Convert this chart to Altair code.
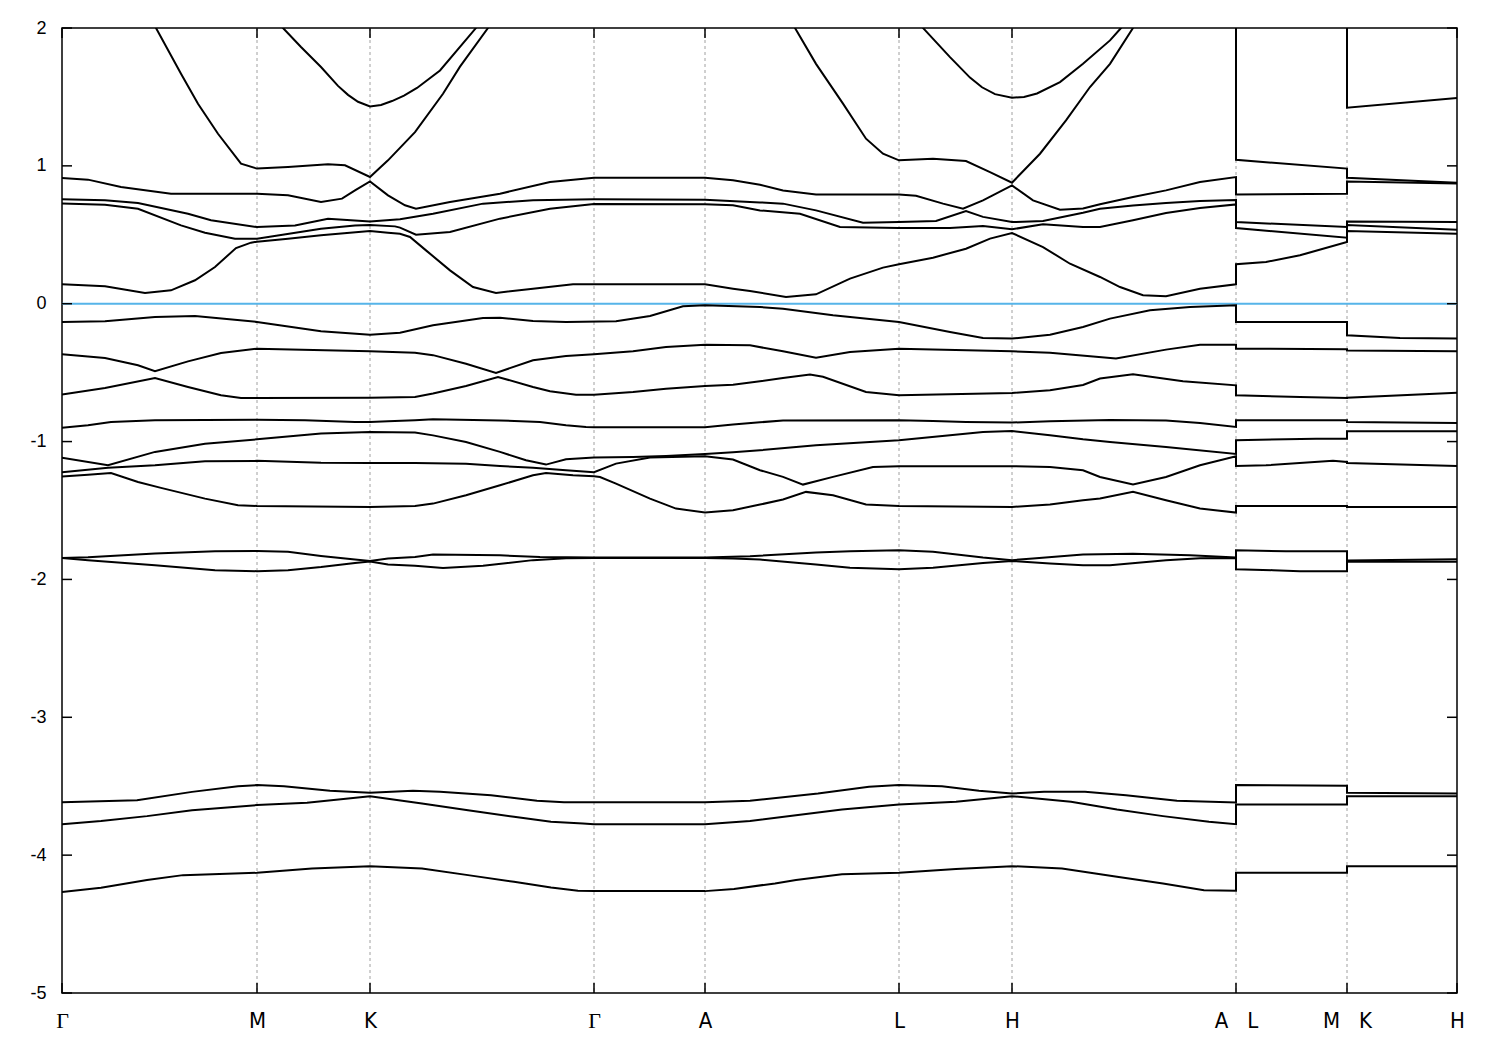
import altair as alt
import pandas as pd

# high-symmetry points along the k-path (path coordinate)
node_k = [0, 195, 308, 532, 643, 837, 950, 1174, 1285, 1395]
NB = "\u00a0"
node_labels = ["Γ", "M", "K", "Γ", "A", "L", "H", "A" + NB * 3 + "L", "M" + NB * 3 + "K", "H"]
grid_k = [195, 308, 532, 643, 837, 950, 1174, 1285]
y_ticks = [-5, -4, -3, -2, -1, 0, 1, 2]
fermi = [0.0]

# bands: (k, E) points along the path
b01 = [(0, -4.267), (39, -4.237), (85, -4.18), (121, -4.145), (195, -4.128), (250, -4.097), (308, -4.08),
       (360, -4.097), (406, -4.145), (452, -4.193), (489, -4.234), (516, -4.258), (532, -4.261), (643, -4.261),
       (672, -4.245), (713, -4.205), (734, -4.18), (780, -4.138), (837, -4.128), (894, -4.10), (950, -4.08),
       (1000, -4.097), (1055, -4.157), (1101, -4.205), (1142, -4.254), (1174, -4.258), (1174, -4.128),
       (1285, -4.128), (1285, -4.08), (1395, -4.08)]
b02 = [(0, -3.776), (39, -3.753), (85, -3.717), (130, -3.674), (195, -3.637), (245, -3.62), (308, -3.572),
       (360, -3.625), (406, -3.674), (452, -3.722), (489, -3.758), (521, -3.77), (532, -3.776), (643, -3.776),
       (688, -3.753), (734, -3.71), (780, -3.669), (837, -3.633), (894, -3.613), (950, -3.572), (1009, -3.613),
       (1055, -3.669), (1101, -3.717), (1147, -3.758), (1174, -3.775), (1174, -3.633), (1285, -3.633),
       (1285, -3.572), (1395, -3.572)]
b03 = [(0, -3.616), (75, -3.601), (130, -3.541), (176, -3.50), (195, -3.492), (222, -3.50), (268, -3.533),
       (308, -3.548), (351, -3.533), (378, -3.54), (429, -3.565), (475, -3.606), (502, -3.616), (643, -3.616),
       (688, -3.606), (756, -3.553), (807, -3.504), (837, -3.492), (880, -3.50), (917, -3.533), (950, -3.553),
       (982, -3.541), (1023, -3.541), (1064, -3.565), (1115, -3.606), (1174, -3.618), (1174, -3.492),
       (1285, -3.497), (1285, -3.548), (1395, -3.553)]
b04 = [(0, -1.844), (26, -1.86), (93, -1.897), (153, -1.933), (195, -1.94), (226, -1.933), (259, -1.91),
       (293, -1.88), (308, -1.87), (326, -1.892), (353, -1.90), (381, -1.917), (421, -1.90), (471, -1.86),
       (504, -1.847), (532, -1.844), (643, -1.844), (671, -1.849), (698, -1.856), (754, -1.892), (788, -1.916),
       (837, -1.926), (871, -1.916), (921, -1.88), (950, -1.866), (988, -1.885), (1021, -1.897), (1048, -1.897),
       (1104, -1.861), (1138, -1.847), (1174, -1.844), (1174, -1.926), (1211, -1.933), (1238, -1.94),
       (1285, -1.94), (1285, -1.87), (1395, -1.872)]
b05 = [(0, -1.844), (26, -1.839), (93, -1.812), (153, -1.796), (195, -1.793), (226, -1.80), (259, -1.83),
       (293, -1.856), (308, -1.866), (326, -1.849), (353, -1.837), (371, -1.82), (438, -1.825), (478, -1.837),
       (532, -1.841), (643, -1.841), (688, -1.832), (754, -1.805), (788, -1.796), (837, -1.788), (871, -1.80),
       (921, -1.841), (950, -1.86), (971, -1.849), (1021, -1.82), (1071, -1.813), (1128, -1.825), (1174, -1.841),
       (1174, -1.788), (1224, -1.796), (1285, -1.796), (1285, -1.862), (1395, -1.853)]
b06 = [(0, -1.253), (26, -1.24), (49, -1.228), (76, -1.293), (99, -1.336), (143, -1.414), (176, -1.462),
       (195, -1.467), (308, -1.474), (353, -1.467), (371, -1.45), (404, -1.389), (438, -1.317), (471, -1.245),
       (484, -1.228), (511, -1.245), (532, -1.252), (538, -1.257), (554, -1.305), (588, -1.414), (614, -1.486),
       (643, -1.515), (671, -1.498), (698, -1.457), (721, -1.42), (744, -1.365), (771, -1.39), (804, -1.457),
       (837, -1.467), (950, -1.474), (988, -1.457), (1021, -1.426), (1038, -1.413), (1071, -1.365),
       (1104, -1.426), (1138, -1.486), (1174, -1.515), (1174, -1.467), (1285, -1.467), (1285, -1.474),
       (1395, -1.474)]
b07 = [(0, -1.222), (46, -1.19), (93, -1.172), (143, -1.143), (195, -1.14), (259, -1.153), (308, -1.155),
       (353, -1.155), (404, -1.16), (438, -1.177), (471, -1.19), (504, -1.208), (532, -1.222), (554, -1.16),
       (588, -1.116), (643, -1.107), (671, -1.13), (698, -1.208), (721, -1.256), (741, -1.312), (771, -1.256),
       (811, -1.184), (837, -1.179), (950, -1.179), (988, -1.184), (1021, -1.208), (1038, -1.257),
       (1071, -1.312), (1104, -1.257), (1138, -1.172), (1174, -1.107), (1174, -1.177), (1204, -1.172),
       (1271, -1.14), (1285, -1.148), (1285, -1.155), (1395, -1.177)]
b08 = [(0, -1.118), (46, -1.172), (93, -1.075), (143, -1.015), (195, -0.984), (259, -0.942), (308, -0.93),
       (353, -0.935), (371, -0.955), (404, -1.003), (438, -1.075), (464, -1.136), (484, -1.167), (504, -1.128),
       (532, -1.116), (571, -1.112), (604, -1.104), (643, -1.09), (671, -1.077), (698, -1.063), (754, -1.027),
       (837, -0.99), (888, -0.955), (921, -0.93), (950, -0.923), (988, -0.955), (1021, -0.984), (1048, -1.003),
       (1104, -1.04), (1174, -1.09), (1174, -0.99), (1254, -0.98), (1285, -0.98), (1285, -0.926),
       (1395, -0.926)]
b09 = [(0, -0.899), (26, -0.882), (49, -0.858), (93, -0.845), (195, -0.841), (243, -0.845), (293, -0.858),
       (308, -0.858), (326, -0.852), (353, -0.845), (371, -0.838), (438, -0.847), (478, -0.858), (504, -0.882),
       (524, -0.894), (532, -0.896), (643, -0.896), (671, -0.877), (698, -0.86), (721, -0.848), (837, -0.845),
       (871, -0.85), (904, -0.858), (950, -0.862), (988, -0.853), (1048, -0.843), (1104, -0.848),
       (1138, -0.865), (1174, -0.894), (1174, -0.845), (1285, -0.845), (1285, -0.858), (1395, -0.865)]
b10 = [(0, -0.659), (43, -0.611), (93, -0.539), (126, -0.604), (159, -0.664), (179, -0.684), (195, -0.684),
       (308, -0.682), (353, -0.677), (371, -0.652), (404, -0.597), (436, -0.531), (471, -0.604), (488, -0.635),
       (514, -0.66), (532, -0.66), (571, -0.64), (604, -0.616), (643, -0.597), (671, -0.587), (698, -0.563),
       (721, -0.539), (748, -0.514), (761, -0.53), (804, -0.64), (837, -0.664), (950, -0.647), (988, -0.628),
       (1021, -0.59), (1038, -0.543), (1071, -0.512), (1121, -0.563), (1174, -0.592), (1174, -0.664),
       (1238, -0.677), (1285, -0.684), (1285, -0.682), (1395, -0.645)]
b11 = [(0, -0.367), (43, -0.394), (76, -0.447), (93, -0.49), (126, -0.418), (159, -0.357), (195, -0.326),
       (308, -0.345), (353, -0.355), (371, -0.373), (404, -0.435), (434, -0.502), (471, -0.41), (504, -0.38),
       (532, -0.367), (571, -0.345), (604, -0.314), (643, -0.297), (688, -0.302), (721, -0.345), (754, -0.391),
       (788, -0.35), (837, -0.326), (950, -0.345), (988, -0.355), (1054, -0.398), (1104, -0.333),
       (1138, -0.297), (1174, -0.297), (1174, -0.326), (1285, -0.33), (1285, -0.34), (1395, -0.345)]
b12 = [(0, -0.132), (43, -0.128), (93, -0.096), (133, -0.089), (195, -0.132), (259, -0.20), (308, -0.225),
       (338, -0.21), (371, -0.157), (421, -0.104), (438, -0.101), (471, -0.125), (504, -0.132), (554, -0.128),
       (588, -0.089), (621, -0.019), (643, -0.012), (698, -0.024), (721, -0.036), (771, -0.084), (837, -0.132),
       (888, -0.205), (921, -0.248), (950, -0.253), (988, -0.225), (1021, -0.169), (1048, -0.108),
       (1088, -0.048), (1128, -0.024), (1174, -0.012), (1174, -0.132), (1285, -0.132), (1285, -0.229),
       (1338, -0.248), (1395, -0.253)]
b13 = [(0, 0.141), (43, 0.126), (83, 0.078), (109, 0.097), (133, 0.17), (153, 0.266), (174, 0.404),
       (189, 0.443), (195, 0.45), (226, 0.472), (259, 0.496), (308, 0.527), (326, 0.515), (338, 0.508),
       (348, 0.484), (364, 0.387), (388, 0.242), (411, 0.121), (434, 0.078), (471, 0.109), (511, 0.141),
       (532, 0.141), (643, 0.141), (671, 0.109), (688, 0.092), (724, 0.049), (754, 0.068), (788, 0.182),
       (821, 0.262), (837, 0.286), (871, 0.334), (904, 0.399), (928, 0.472), (950, 0.513), (981, 0.411),
       (1008, 0.29), (1038, 0.194), (1058, 0.121), (1081, 0.061), (1104, 0.054), (1138, 0.109), (1174, 0.141),
       (1174, 0.286), (1204, 0.303), (1238, 0.351), (1285, 0.448), (1285, 0.527), (1395, 0.508)]
b14 = [(0, 0.727), (43, 0.718), (76, 0.689), (119, 0.568), (143, 0.515), (173, 0.472), (195, 0.472),
       (259, 0.544), (293, 0.568), (308, 0.571), (333, 0.561), (338, 0.552), (354, 0.501), (388, 0.52),
       (438, 0.617), (488, 0.689), (532, 0.724), (643, 0.722), (671, 0.714), (698, 0.677), (738, 0.653),
       (778, 0.556), (837, 0.549), (888, 0.549), (921, 0.564), (950, 0.54), (981, 0.576), (1021, 0.556),
       (1038, 0.556), (1071, 0.605), (1104, 0.658), (1138, 0.694), (1174, 0.72), (1174, 0.549), (1285, 0.479),
       (1285, 0.571), (1395, 0.537)]
b15 = [(0, 0.757), (43, 0.75), (76, 0.73), (126, 0.653), (149, 0.605), (195, 0.556), (233, 0.568),
       (266, 0.617), (308, 0.597), (338, 0.612), (371, 0.653), (421, 0.726), (471, 0.75), (532, 0.757),
       (643, 0.755), (698, 0.735), (721, 0.726), (754, 0.677), (801, 0.588), (837, 0.592), (874, 0.60),
       (904, 0.672), (921, 0.63), (950, 0.592), (981, 0.60), (1021, 0.66), (1038, 0.689), (1071, 0.713),
       (1104, 0.73), (1138, 0.745), (1174, 0.753), (1174, 0.592), (1285, 0.556), (1285, 0.597), (1395, 0.592)]
b16 = [(0, 0.912), (26, 0.90), (59, 0.846), (109, 0.798), (195, 0.798), (226, 0.786), (259, 0.738),
       (280, 0.762), (293, 0.822), (308, 0.887), (326, 0.786), (343, 0.714), (354, 0.689), (388, 0.738),
       (438, 0.798), (488, 0.883), (532, 0.914), (643, 0.914), (671, 0.895), (698, 0.863), (721, 0.822),
       (754, 0.793), (837, 0.793), (854, 0.783), (881, 0.726), (901, 0.689), (921, 0.75), (950, 0.858),
       (971, 0.75), (998, 0.682), (1021, 0.69), (1038, 0.721), (1071, 0.774), (1104, 0.822), (1138, 0.883),
       (1174, 0.919), (1174, 0.793), (1285, 0.798), (1285, 0.887), (1395, 0.872)]
b17 = [(0, 3.0), (50, 2.55), (94, 2.0), (119, 1.668), (136, 1.45), (156, 1.233), (179, 1.016), (195, 0.98),
       (226, 0.991), (266, 1.011), (283, 1.004), (308, 0.919), (326, 1.04), (353, 1.245), (381, 1.523),
       (398, 1.72), (426, 2.0), (480, 2.6), (532, 3.0), (643, 3.0), (690, 2.5), (733, 2.0), (754, 1.74),
       (781, 1.451), (804, 1.197), (821, 1.088), (837, 1.04), (871, 1.052), (904, 1.035), (928, 0.955),
       (950, 0.878), (978, 1.088), (1004, 1.33), (1028, 1.572), (1048, 1.74), (1071, 2.0), (1120, 2.6),
       (1174, 3.0), (1174, 1.044), (1285, 0.98), (1285, 0.914), (1395, 0.878)]
b18 = [(0, 3.8), (100, 3.0), (195, 2.2), (221, 2.0), (239, 1.862), (259, 1.717), (276, 1.58), (286, 1.515),
       (296, 1.465), (308, 1.431), (319, 1.442), (330, 1.47), (342, 1.51), (355, 1.565), (378, 1.692),
       (414, 2.0), (470, 2.6), (532, 3.2), (643, 3.2), (750, 2.8), (837, 2.3), (861, 2.0), (888, 1.789),
       (908, 1.64), (920, 1.57), (933, 1.52), (950, 1.494), (962, 1.5), (975, 1.525), (998, 1.608),
       (1021, 1.741), (1048, 1.91), (1059, 2.0), (1120, 2.6), (1174, 3.2), (1174, 2.3), (1285, 2.25),
       (1285, 1.422), (1395, 1.492)]

bands = [b01, b02, b03, b04, b05, b06, b07, b08, b09, b10, b11, b12, b13, b14, b15, b16, b17, b18]

rows = []
for i, band in enumerate(bands):
    for j, (k, e) in enumerate(band):
        rows.append({"band": i + 1, "idx": j, "k": k, "E": e})
df = pd.DataFrame(rows)

W, H = 1395, 965
TICK = 10
xscale = alt.Scale(domain=[0, 1395], nice=False, zero=False)
yscale = alt.Scale(domain=[-5, 2], nice=False, zero=False)

label_expr = "".join(f"datum.value == {k} ? '{l}' : " for k, l in zip(node_k, node_labels)) + "''"

sans = "Liberation Sans Narrow, DejaVu Sans Condensed, Liberation Sans, sans-serif"
x_axis = alt.Axis(values=node_k, labelExpr=label_expr, ticks=False, tickSize=0, domain=False, grid=False,
                  labelPadding=17, labelFontSize=22, labelColor="black", title=None,
                  labelFont={"condition": {"test": "datum.value == 0 || datum.value == 532",
                                           "value": "Liberation Serif"}, "value": sans},
                  labelOverlap=False, labelBound=False, labelFlush=False)
y_axis = alt.Axis(values=y_ticks, labelExpr="toString(datum.value)", ticks=False, tickSize=0, domain=False,
                  grid=False, labelPadding=16, labelFontSize=18, labelFont="Liberation Sans",
                  labelColor="black", title=None, minExtent=40, maxExtent=40, labelFlush=False,
                  labelBound=False)

X = alt.X("k:Q", scale=xscale, axis=x_axis)
Y = alt.Y("E:Q", scale=yscale, axis=y_axis)

grid = alt.Chart(pd.DataFrame({"k": grid_k})).mark_rule(
    color="#a0a0a0", strokeWidth=1, strokeDash=[3, 3]
).encode(x=X)

zero = alt.Chart(pd.DataFrame({"E": fermi})).mark_rule(color="#56b4e9", strokeWidth=2).encode(y=Y)

lines = alt.Chart(df).mark_line(color="black", strokeWidth=2, clip=True).encode(
    x=X, y=Y, detail="band:N", order="idx:Q",
)

kdf = pd.DataFrame({"k": node_k})
edf = pd.DataFrame({"E": y_ticks})
tick_style = dict(color="black", strokeWidth=1.5)
xt_bottom = alt.Chart(kdf).mark_rule(**tick_style).encode(x=X, y=alt.value(H - TICK), y2=alt.value(H))
xt_top = alt.Chart(kdf).mark_rule(**tick_style).encode(x=X, y=alt.value(0), y2=alt.value(TICK))
yt_left = alt.Chart(edf).mark_rule(**tick_style).encode(y=Y, x=alt.value(0), x2=alt.value(TICK))
yt_right = alt.Chart(edf).mark_rule(**tick_style).encode(y=Y, x=alt.value(W - TICK), x2=alt.value(W))

chart = alt.layer(grid, zero, xt_bottom, xt_top, yt_left, yt_right, lines).properties(
    width=W, height=H, padding={"left": 14, "top": 11, "right": 20, "bottom": 10}
).configure_view(stroke="black", strokeWidth=1.5)

chart.save("out.html", embed_options={"renderer": "svg", "actions": False})
